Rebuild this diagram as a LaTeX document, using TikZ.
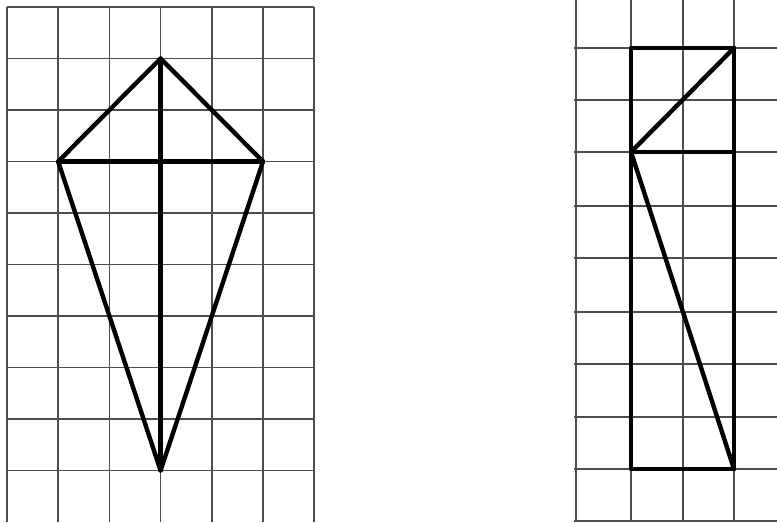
\documentclass[tikz,border=0pt]{standalone}
\usepackage{tikz}
\usetikzlibrary{positioning}

\begin{document}
\begin{tikzpicture}[x=0.02cm, y=-0.02cm,
	gridline/.style={draw=black!70, line width=1pt},
	figline/.style={draw=black, line width=2.5pt, line join=round, line cap=round}
]
\useasboundingbox[fill=white] (0,0) rectangle (777,522);

% left grid
\foreach \gx in {7,58.2,109.4,160.6,211.8,263,314.2}
	\draw[gridline] (\gx,7) -- (\gx,522);
\foreach \gy in {7,58.5,110,161.5,213,264.5,316,367.5,419,470.5}
	\draw[gridline] (7,\gy) -- (314.2,\gy);

% right grid
\foreach \gx in {576,631,683,734}
	\draw[gridline] (\gx,0) -- (\gx,522);
\foreach \gy in {48,100,152,206,258,312,364,417,469,521}
	\draw[gridline] (574,\gy) -- (777,\gy);

% kite
\coordinate (ktop)    at (160.6,58.5);
\coordinate (kleft)   at (58.2,161.5);
\coordinate (kright)  at (263,161.5);
\coordinate (kbottom) at (160.6,470.5);
\draw[figline] (ktop) -- (kleft) -- (kbottom) -- (kright) -- cycle;
\draw[figline] (ktop) -- (kbottom);
\draw[figline] (kleft) -- (kright);

% rectangle
\coordinate (rtl) at (631,48);
\coordinate (rtr) at (734,48);
\coordinate (rbl) at (631,469);
\coordinate (rbr) at (734,469);
\coordinate (rmid) at (631,152);
\coordinate (rmidr) at (734,152);
\draw[figline] (rtl) -- (rtr) -- (rbr) -- (rbl) -- cycle;
\draw[figline] (rmid) -- (rtr);
\draw[figline] (rmid) -- (rmidr);
\draw[figline] (rmid) -- (rbr);
\end{tikzpicture}
\end{document}
